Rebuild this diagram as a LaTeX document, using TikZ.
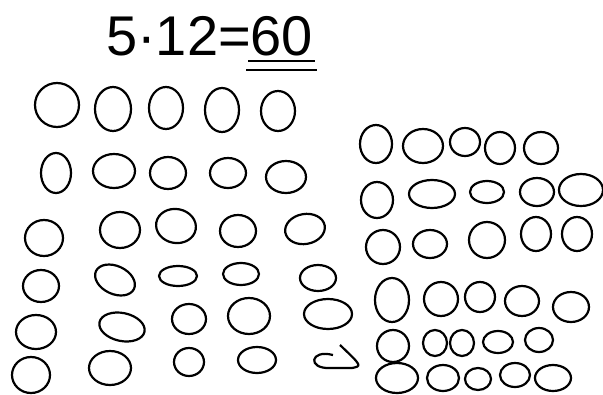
\documentclass[tikz,border=0pt]{standalone}
\usepackage{fontspec}
\setmainfont{Liberation Sans}
\usetikzlibrary{positioning}

\begin{document}
\begin{tikzpicture}[x=1pt,y=-1pt,
  ring/.style={line width=2.2pt,line join=round},
  uline/.style={line width=1.6pt}]
\useasboundingbox (0,0) rectangle (603,394);

% Equation at the top
\node[inner sep=0pt,anchor=base west,font=\fontsize{56}{60}\selectfont] (eq) at (106,55) {5·12=};
\node[inner sep=0pt,anchor=base west,font=\fontsize{56}{60}\selectfont] (res) at (250,55) {60};
\draw[uline] ([xshift=-2pt,yshift=-6pt]res.base west) -- ([xshift=2pt,yshift=-6pt]res.base east);
\draw[uline] ([xshift=-4pt,yshift=-15pt]res.base west) -- ([xshift=4pt,yshift=-15pt]res.base east);

% Left block: 6 rows of 5
\foreach \x/\y/\a/\b/\r in {
  57/105/22/22/0, 113/109/18/22/0, 166/108/17/21/0, 222/110/17/22/0, 278/111/17/20/0,
  56/173/15/20/0, 114/171/21/17/0, 168/173/18/16/0, 228/173/18/15/0, 286/177/20/16/0,
  44/238/19/18/0, 120/230/20/18/0, 176/226/20/17/-10, 238/231/18/16/0, 305/229/20/15/10,
  41/286/18/16/0, 115/280/21/14/-25, 178/276/19/10/0, 241/274/18/11/0, 318/278/18/13/0,
  36/332/20/17/0, 122/327/23/14/-12, 189/319/17/15/0, 249/316/21/18/0, 328/314/24/15/0,
  31/375/19/18/0, 110/368/21/17/0, 189/362/15/14/0, 257/360/19/13/0}
  \draw[ring,rotate around={\r:(\x,\y)}] (\x,\y) ellipse (\a pt and \b pt);
\draw[ring] (333,355) .. controls (310,349) and (307,369) .. (330,368)
  -- (352,368) .. controls (362,366) .. (340,345);

% Right block: 6 rows of 5
\foreach \x/\y/\a/\b/\r in {
  376/144/16/19/0, 423/146/20/17/0, 465/142/15/14/0, 500/148/15/16/0, 541/148/17/16/0,
  377/200/16/18/0, 432/194/23/14/0, 487/192/17/11/0, 537/192/17/14/0, 581/190/22/16/0,
  383/247/17/17/0, 430/244/17/14/0, 487/240/18/18/0, 536/234/15/17/0, 577/234/15/17/0,
  392/300/17/22/0, 441/299/17/17/0, 480/297/15/15/0, 522/301/17/15/0, 571/307/18/15/0,
  393/346/16/16/0, 435/343/12/13/0, 462/343/12/13/0, 498/342/15/11/0, 539/340/14/12/0,
  397/378/21/15/0, 443/378/16/13/0, 478/379/13/11/0, 515/375/15/12/0, 553/378/18/13/0}
  \draw[ring,rotate around={\r:(\x,\y)}] (\x,\y) ellipse (\a pt and \b pt);
\end{tikzpicture}
\end{document}
